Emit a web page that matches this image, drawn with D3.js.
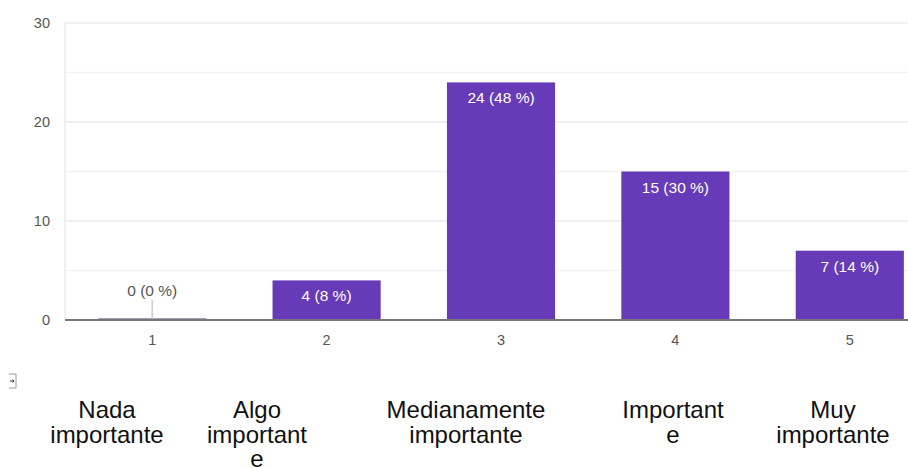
<!DOCTYPE html>
<html>
<head>
<meta charset="utf-8">
<script src="https://cdn.jsdelivr.net/npm/d3@7"></script>
<style>
  html, body { margin: 0; padding: 0; background: #fff; }
  svg { display: block; }
</style>
</head>
<body>
<svg id="chart" width="908" height="468"></svg>
<script>
// ---- data ----
const categories = ["1", "2", "3", "4", "5"];
const counts = [0, 4, 24, 15, 7];
const percents = [0, 8, 48, 30, 14];
const yTicks = [0, 10, 20, 30];
const yMinorTicks = [5, 15, 25];
const answerLabels = [
  ["Nada", "importante"],
  ["Algo", "important", "e"],
  ["Medianamente", "importante"],
  ["Important", "e"],
  ["Muy", "importante"]
];

// ---- layout ----
const W = 908, H = 468;
const plotLeft = 65, plotRight = 937, plotTop = 23, plotBottom = 320;
const labelCenters = [107, 257, 466, 673, 833];
const FONT = "Liberation Sans, Arial, sans-serif";

const svg = d3.select("#chart");

const x = d3.scaleBand().domain(categories).range([plotLeft, plotRight]).paddingInner(0.38).paddingOuter(0.19);
const y = d3.scaleLinear().domain([0, 30]).range([plotBottom, plotTop]);

// grid lines
svg.append("g").selectAll("line").data(yMinorTicks).join("line")
  .attr("x1", plotLeft).attr("x2", W)
  .attr("y1", d => y(d)).attr("y2", d => y(d))
  .attr("stroke", "#f3f3f3").attr("stroke-width", 1.5);
svg.append("g").selectAll("line").data(yTicks.filter(d => d > 0)).join("line")
  .attr("x1", plotLeft).attr("x2", W)
  .attr("y1", d => y(d)).attr("y2", d => y(d))
  .attr("stroke", "#ebebeb").attr("stroke-width", 1.5);
// left light axis line
svg.append("line").attr("x1", plotLeft).attr("x2", plotLeft)
  .attr("y1", y(30)).attr("y2", plotBottom)
  .attr("stroke", "#ebebeb").attr("stroke-width", 1.5);

// y axis labels
const yAxis = d3.axisLeft(y).tickValues(yTicks).tickSize(0).tickPadding(15).tickFormat(d3.format("d"));
const gy = svg.append("g").attr("transform", `translate(${plotLeft},0)`).call(yAxis);
gy.select(".domain").remove();
gy.selectAll("text").attr("fill", "#555").style("font-family", FONT).style("font-size", "14.5px");

// bars
svg.append("g").selectAll("rect").data(counts).join("rect")
  .attr("x", (d, i) => x(categories[i]))
  .attr("width", x.bandwidth())
  .attr("y", d => y(d))
  .attr("height", d => plotBottom - y(d))
  .attr("fill", "#673ab7");

// zero-value marker
counts.forEach((d, i) => {
  if (d === 0) {
    svg.append("rect").attr("x", x(categories[i])).attr("width", x.bandwidth())
      .attr("y", plotBottom - 1.5).attr("height", 2.5).attr("fill", "#4a3a7a");
    svg.append("line")
      .attr("x1", x(categories[i]) + x.bandwidth() / 2).attr("x2", x(categories[i]) + x.bandwidth() / 2)
      .attr("y1", y(0) - 20).attr("y2", y(0))
      .attr("stroke", "#cccccc").attr("stroke-width", 1.5);
  }
});

// baseline axis
const xAxis = d3.axisBottom(x).tickSize(0).tickPadding(15);
const gx = svg.append("g").attr("transform", `translate(0,${plotBottom})`).call(xAxis);
gx.select(".domain").attr("stroke", "#777").attr("stroke-width", 2).attr("d", `M${plotLeft},0H${W}`);
gx.selectAll("text").attr("fill", "#555").style("font-family", FONT).style("font-size", "14.5px");

// bar value labels
svg.append("g").selectAll("text").data(counts).join("text")
  .attr("x", (d, i) => x(categories[i]) + x.bandwidth() / 2)
  .attr("y", d => d === 0 ? y(0) - 24 : y(d) + 21)
  .attr("text-anchor", "middle")
  .attr("fill", d => d === 0 ? "#555" : "#fff")
  .style("font-family", FONT)
  .style("font-size", "15.5px")
  .text((d, i) => `${d} (${percents[i]} %)`);

// small icon
const ic = svg.append("g").attr("transform", "translate(9,374)");
ic.append("path").attr("d", "M0,0H7V14H0").attr("fill", "none").attr("stroke", "#999").attr("stroke-width", 1);
ic.append("path").attr("d", "M1,7H5M3.5,5.5L5,7L3.5,8.5").attr("fill", "none").attr("stroke", "#333").attr("stroke-width", 1);

// answer labels
const lab = svg.append("g").selectAll("text").data(answerLabels).join("text")
  .attr("text-anchor", "middle")
  .attr("fill", "#111")
  .style("font-family", FONT)
  .style("font-size", "24px");
lab.each(function(lines, i) {
  d3.select(this).selectAll("tspan").data(lines).join("tspan")
    .attr("x", labelCenters[i])
    .attr("y", (l, j) => 418 + j * 24.5)
    .text(l => l);
});
</script>
</body>
</html>
